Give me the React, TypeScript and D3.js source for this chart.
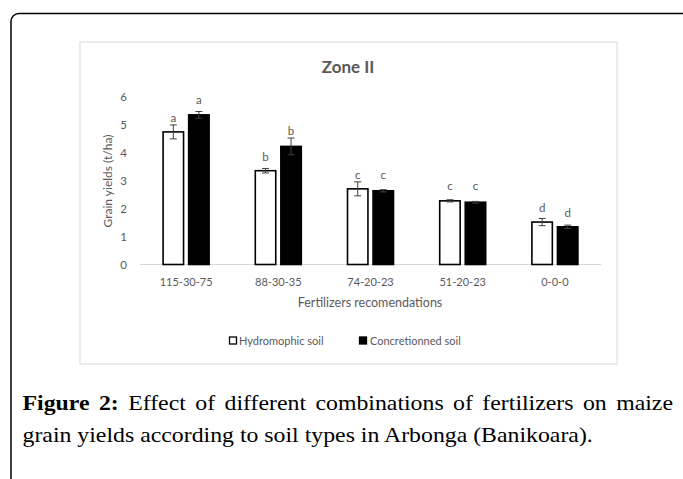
import React, { useEffect, useRef } from 'react';
import * as d3 from 'd3';

const categories = ['115-30-75', '88-30-35', '74-20-23', '51-20-23', '0-0-0'];
const seriesNames = ['Hydromophic soil', 'Concretionned soil'];
const hydromorphic = [4.75, 3.36, 2.71, 2.28, 1.52];
const hydromorphicErr = [0.25, 0.08, 0.25, 0.04, 0.13];
const concretion = [5.36, 4.23, 2.64, 2.23, 1.35];
const concretionErr = [0.12, 0.3, 0.04, 0.03, 0.06];
const hydromorphicLetters = ['a', 'b', 'c', 'c', 'd'];
const concretionLetters = ['a', 'b', 'c', 'c', 'd'];
// where the letters sit, in t/ha
const hydromorphicLetterY = [5.12, 3.7, 3.06, 2.67, 1.89];
const concretionLetterY = [5.75, 4.63, 3.06, 2.67, 1.71];
const yTicks = [0, 1, 2, 3, 4, 5, 6];

const captionLine1 = ['Figure', '2:', 'Effect', 'of', 'different', 'combinations', 'of', 'fertilizers', 'on', 'maize'];
const captionLine2 = 'grain yields according to soil types in Arbonga (Banikoara).';

const FONT = 'Lato, "Open Sans", sans-serif';
const SERIF = '"Liberation Serif", "DejaVu Serif", serif';
const GREY = '#595959';

export default function App() {
  const capRef = useRef<SVGGElement>(null);

  const x = d3.scaleBand().domain(categories).range([140, 601]);
  const x1 = d3.scaleBand().domain(seriesNames).range([-23, 23]).paddingInner(0.2);
  const y = d3.scaleLinear().domain([0, 6]).range([264.5, 97]);

  const series = [
    { name: seriesNames[0], vals: hydromorphic, err: hydromorphicErr, letters: hydromorphicLetters, ly: hydromorphicLetterY, fill: '#ffffff' },
    { name: seriesNames[1], vals: concretion, err: concretionErr, letters: concretionLetters, ly: concretionLetterY, fill: '#000000' },
  ];

  useEffect(() => {
    const g = d3.select(capRef.current);
    g.selectAll('*').remove();
    const left = 22.5, right = 673, line2Right = 593;
    const inner = g.append('g');

    const l2 = inner.append('text')
      .attr('x', left).attr('y', 442)
      .attr('font-family', SERIF).attr('font-size', 21).attr('fill', '#000')
      .text(captionLine2);
    const w2 = (l2.node() as SVGTextElement).getComputedTextLength();
    const sx = (line2Right - left) / w2;
    inner.attr('transform', `translate(${left},0) scale(${sx},1) translate(${-left},0)`);

    const words = inner.selectAll('text.w')
      .data(captionLine1)
      .enter().append('text')
      .attr('class', 'w')
      .attr('y', 410)
      .attr('font-family', SERIF)
      .attr('font-size', 21)
      .attr('font-weight', (d, i) => (i < 2 ? 'bold' : 'normal'))
      .attr('fill', '#000')
      .text(d => d);
    const widths: number[] = [];
    words.each(function () { widths.push((this as SVGTextElement).getComputedTextLength()); });
    const span = (right - left) / sx;
    const gap = (span - d3.sum(widths)) / (captionLine1.length - 1);
    let cx = left;
    words.attr('x', (d, i) => { const p = cx; cx += widths[i] + gap; return p; });
  }, []);

  return (
    <svg width={683} height={479} style={{ position: 'absolute', left: 0, top: 0, background: '#fff' }}>
      <rect x={11} y={13.5} width={720} height={600} rx={8} fill="none" stroke="#000" strokeWidth={1.5} />
      <rect x={80} y={42} width={537} height={322} fill="#fff" stroke="#d9d9d9" strokeWidth={1} />

      <text x={348} y={72.5} textAnchor="middle" fontFamily={FONT} fontWeight="bold" fontSize={17} fill={GREY}>Zone II</text>

      {yTicks.map(t => (
        <text key={t} x={127} y={y(t) + 4} textAnchor="end" fontFamily={FONT} fontSize={11.5} fill={GREY}>{t}</text>
      ))}
      <text transform={`translate(112,181) rotate(-90)`} textAnchor="middle" fontFamily={FONT} fontSize={12} fill={GREY}>Grain yields (t/ha)</text>

      <line x1={140} x2={601} y1={y(0)} y2={y(0)} stroke="#d9d9d9" strokeWidth={1} />

      {series.map(s => (
        <g key={s.name}>
          {categories.map((c, i) => {
            const bx = (x(c) as number) + x.bandwidth() / 2 + (x1(s.name) as number);
            const bw = x1.bandwidth();
            const cxm = bx + bw / 2;
            return (
              <g key={c}>
                <rect x={bx} y={y(s.vals[i])} width={bw} height={y(0) - y(s.vals[i])}
                  fill={s.fill} stroke="#000" strokeWidth={1.6} />
                <g stroke="#404040" strokeWidth={1}>
                  <line x1={cxm} x2={cxm} y1={y(s.vals[i] + s.err[i])} y2={y(s.vals[i] - s.err[i])} />
                  <line x1={cxm - 3.5} x2={cxm + 3.5} y1={y(s.vals[i] + s.err[i])} y2={y(s.vals[i] + s.err[i])} />
                  <line x1={cxm - 3.5} x2={cxm + 3.5} y1={y(s.vals[i] - s.err[i])} y2={y(s.vals[i] - s.err[i])} />
                </g>
                <text x={cxm} y={y(s.ly[i])} textAnchor="middle" fontFamily={FONT} fontSize={11.5} fill={GREY}>{s.letters[i]}</text>
              </g>
            );
          })}
        </g>
      ))}

      {categories.map(c => (
        <text key={c} x={(x(c) as number) + x.bandwidth() / 2} y={286} textAnchor="middle" fontFamily={FONT} fontSize={11} fill={GREY}>{c}</text>
      ))}
      <text x={370} y={307} textAnchor="middle" fontFamily={FONT} fontSize={12.5} fill={GREY}>Fertilizers recomendations</text>

      <g fontFamily={FONT} fontSize={11} fill={GREY}>
        <rect x={229.5} y={337} width={7} height={7} fill="#fff" stroke="#000" strokeWidth={1.3} />
        <text x={239} y={344.5}>{seriesNames[0]}</text>
        <rect x={359.5} y={337} width={7} height={7} fill="#000" stroke="#000" strokeWidth={1.3} />
        <text x={370} y={344.5}>{seriesNames[1]}</text>
      </g>

      <g ref={capRef} />
    </svg>
  );
}
